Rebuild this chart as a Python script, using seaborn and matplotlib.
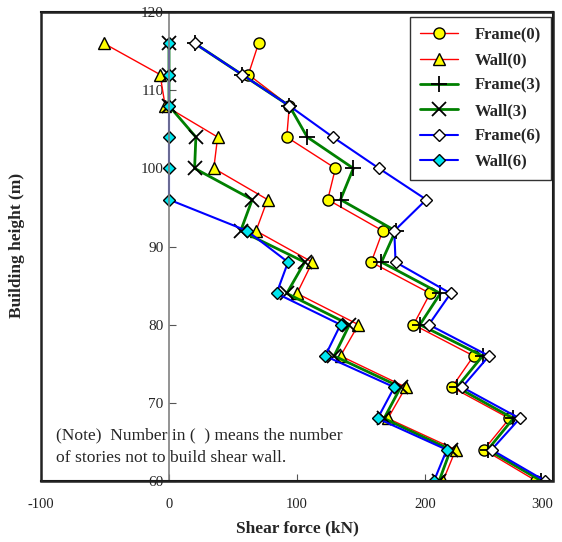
import matplotlib
matplotlib.use("Agg")
import matplotlib.pyplot as plt
import seaborn as sns
import pandas as pd
from matplotlib.patches import Rectangle

heights = [116, 112, 108, 104, 100, 96, 92, 88, 84, 80, 76, 72, 68, 64, 60]
frame0 = [70, 62, 94, 92, 130, 124, 167, 158, 204, 191, 238, 221, 266, 246, 287]
wall0 = [-51, -7, -3, 38, 35, 77, 68, 112, 100, 148, 134, 185, 171, 224, 214]
frame3 = [20, 57, 94, 108, 144, 134, 177, 166, 212, 196, 245, 225, 269, 249, 291]
wall3 = [0, 0, 0, 21, 20, 65, 56, 106, 92, 141, 129, 181, 168, 220, 211]
frame6 = [20, 57, 94, 128, 164, 201, 176, 177, 220, 203, 250, 229, 274, 252, 294]
wall6 = [0, 0, 0, 0, 0, 0, 61, 93, 84, 134, 122, 176, 163, 217, 207]

series_names = ["Frame(0)", "Wall(0)", "Frame(3)", "Wall(3)", "Frame(6)", "Wall(6)"]
series_vals = [frame0, wall0, frame3, wall3, frame6, wall6]
x_ticks = [-100, 0, 100, 200, 300]
y_ticks = [60, 70, 80, 90, 100, 110, 120]
note = "(Note)  Number in (  ) means the number\nof stories not to build shear wall."

sns.set_theme(style="white")
plt.rcParams["font.family"] = ["Liberation Serif", "DejaVu Serif"]

styles = {
    "Frame(0)": dict(color="red", lw=1.0, marker="o", ms=8, mfc="#ffff00", mec="black", mew=1.0),
    "Wall(0)": dict(color="red", lw=1.0, marker="^", ms=8, mfc="#ffff00", mec="black", mew=1.0),
    "Frame(3)": dict(color="green", lw=2.0, marker="+", ms=11, mfc="black", mec="black", mew=1.3),
    "Wall(3)": dict(color="green", lw=2.0, marker="x", ms=10, mfc="black", mec="black", mew=1.3),
    "Frame(6)": dict(color="blue", lw=1.5, marker="D", ms=6.5, mfc="white", mec="black", mew=1.0),
    "Wall(6)": dict(color="blue", lw=1.5, marker="D", ms=6.5, mfc="#00e5ee", mec="black", mew=1.0),
}

fig = plt.figure(figsize=(5.62, 5.42), dpi=100)
ax = fig.add_axes([41/562, 1-481/542, (553-41)/562, (481-12)/542])

for name, vals in zip(series_names, series_vals):
    st = styles[name]
    df = pd.DataFrame({"x": vals, "y": heights})
    sns.lineplot(data=df, x="x", y="y", sort=False, estimator=None, ax=ax,
                 color=st["color"], linewidth=st["lw"], marker=st["marker"],
                 markersize=st["ms"], markerfacecolor=st["mfc"],
                 markeredgecolor=st["mec"], markeredgewidth=st["mew"],
                 label=name, legend=False)

ax.set_xlim(-100, 300)
ax.set_ylim(60, 120)
ax.set_xticks(x_ticks)
ax.set_yticks(y_ticks)
ax.set_xticklabels([str(t) for t in x_ticks], fontsize=10.5, color="#222222")
ax.set_yticklabels([str(t) for t in y_ticks], fontsize=10.5, color="#222222")
# keep the right-most label inside the canvas
ax.get_xticklabels()[-1].set_horizontalalignment("right")
ax.get_xticklabels()[-1].set_x(300)

for s in ["top", "right", "bottom"]:
    ax.spines[s].set_color("black")
    ax.spines[s].set_linewidth(1.5)
ax.spines["left"].set_position(("data", 0))
ax.spines["left"].set_color("#808080")
ax.spines["left"].set_linewidth(1.2)
ax.add_patch(Rectangle((0, 0), 1, 1, transform=ax.transAxes, fill=False,
                       edgecolor="#222222", linewidth=1.8, clip_on=False, zorder=5))

ax.tick_params(axis="x", direction="in", length=5, width=0.8, color="#555555", bottom=True, pad=12)
ax.tick_params(axis="y", direction="in", length=5, width=0.8, color="#555555", left=True, pad=4)

ax.set_xlabel("Shear force (kN)", fontsize=12.5, fontweight="bold", labelpad=7)
ax.set_ylabel("")
fig.text(17/562, 1-245/542, "Building height (m)", rotation=90, fontsize=12.5,
         fontweight="bold", ha="center", va="center")

ax.text(-88, 64.4, note, fontsize=12.6, ha="left", va="center", linespacing=1.6)

leg = ax.legend(loc="upper right", bbox_to_anchor=(1 - 2/512, 1 - 5/469), borderaxespad=0,
                frameon=True, prop={"weight": "bold", "size": 12}, handlelength=2.3,
                handletextpad=1.0, labelspacing=0.56, borderpad=0.6, fancybox=False)
leg.get_frame().set_edgecolor("black")
leg.get_frame().set_linewidth(1.0)

fig.savefig("out.png", dpi=100)
